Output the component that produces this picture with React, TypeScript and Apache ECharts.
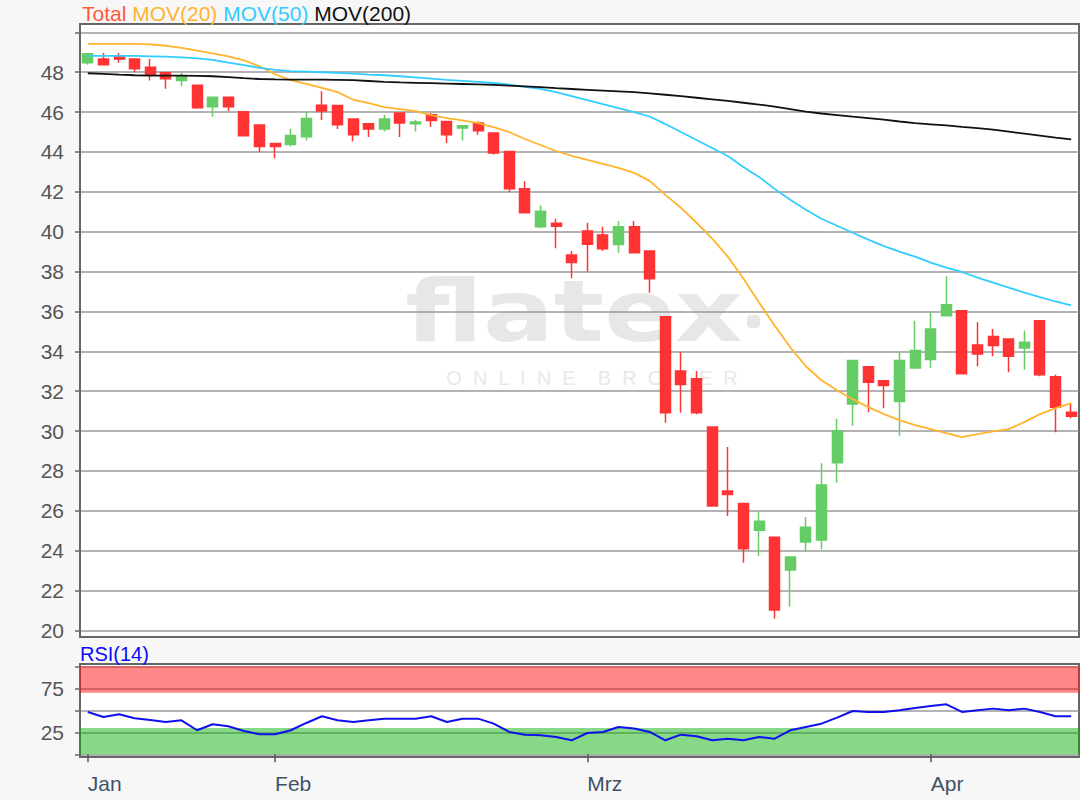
import React, { useEffect, useRef } from 'react';
import * as echarts from 'echarts';

const dates = [
  '2020-01-16', '2020-01-17', '2020-01-20', '2020-01-21', '2020-01-22', '2020-01-23', '2020-01-24', '2020-01-27', '2020-01-28', '2020-01-29', '2020-01-30', '2020-01-31',
  '2020-02-03', '2020-02-04', '2020-02-05', '2020-02-06', '2020-02-07', '2020-02-10', '2020-02-11', '2020-02-12', '2020-02-13', '2020-02-14', '2020-02-17', '2020-02-18', '2020-02-19', '2020-02-20', '2020-02-21', '2020-02-24', '2020-02-25', '2020-02-26', '2020-02-27', '2020-02-28',
  '2020-03-02', '2020-03-03', '2020-03-04', '2020-03-05', '2020-03-06', '2020-03-09', '2020-03-10', '2020-03-11', '2020-03-12', '2020-03-13', '2020-03-16', '2020-03-17', '2020-03-18', '2020-03-19', '2020-03-20', '2020-03-23', '2020-03-24', '2020-03-25', '2020-03-26', '2020-03-27', '2020-03-30', '2020-03-31',
  '2020-04-01', '2020-04-02', '2020-04-03', '2020-04-06', '2020-04-07', '2020-04-08', '2020-04-09', '2020-04-14', '2020-04-15', '2020-04-16',
];

const tickDates = ['2020-01-16', '2020-02-03', '2020-03-02', '2020-04-01'];
const tickLabels = ['Jan', 'Feb', 'Mrz', 'Apr'];

// [open, close, low, high]
const ohlc = [
  [48.47, 48.93, 48.38, 48.97],
  [48.67, 48.38, 48.35, 48.97],
  [48.77, 48.67, 48.47, 48.97],
  [48.67, 48.17, 48.0, 48.67],
  [48.25, 47.85, 47.58, 48.67],
  [47.97, 47.67, 47.17, 47.97],
  [47.58, 47.8, 47.3, 47.97],
  [47.35, 46.22, 46.17, 47.35],
  [46.27, 46.75, 45.77, 46.75],
  [46.75, 46.27, 46.05, 46.75],
  [46.02, 44.82, 44.8, 46.02],
  [45.35, 44.27, 44.0, 45.35],
  [44.43, 44.27, 43.68, 44.43],
  [44.38, 44.83, 44.27, 45.17],
  [44.77, 45.68, 44.58, 46.0],
  [46.35, 46.05, 45.6, 47.05],
  [46.33, 45.37, 45.15, 46.33],
  [45.65, 44.87, 44.53, 45.65],
  [45.42, 45.15, 44.75, 45.42],
  [45.15, 45.65, 45.03, 45.87],
  [45.95, 45.45, 44.75, 45.95],
  [45.42, 45.5, 45.03, 45.62],
  [45.87, 45.58, 45.25, 45.95],
  [45.53, 44.87, 44.45, 45.53],
  [45.2, 45.32, 44.57, 45.32],
  [45.45, 45.07, 44.87, 45.53],
  [44.95, 43.95, 43.87, 44.95],
  [44.03, 42.15, 41.98, 44.03],
  [42.15, 40.95, 40.95, 42.53],
  [40.25, 41.03, 40.17, 41.32],
  [40.42, 40.28, 39.17, 40.65],
  [38.83, 38.45, 37.67, 39.03],
  [40.03, 39.37, 38.0, 40.45],
  [39.83, 39.15, 39.03, 40.25],
  [39.36, 40.25, 38.95, 40.54],
  [40.25, 38.95, 38.95, 40.54],
  [39.03, 37.64, 36.94, 39.03],
  [35.74, 30.92, 30.42, 35.74],
  [33.01, 32.34, 30.92, 33.98],
  [32.63, 30.92, 30.84, 33.01],
  [30.2, 26.24, 26.24, 30.2],
  [26.99, 26.82, 25.74, 29.2],
  [26.37, 24.1, 23.4, 26.37],
  [25.03, 25.48, 23.73, 25.99],
  [24.68, 21.02, 20.6, 24.68],
  [23.03, 23.68, 21.19, 23.68],
  [24.43, 25.18, 23.93, 25.69],
  [24.53, 27.29, 24.06, 28.38],
  [28.41, 30.0, 27.41, 30.62],
  [31.36, 33.54, 30.27, 33.54],
  [33.23, 32.45, 30.94, 33.23],
  [32.53, 32.28, 31.14, 32.53],
  [31.48, 33.54, 29.77, 33.95],
  [33.17, 34.04, 33.17, 35.54],
  [33.59, 35.12, 33.17, 35.96],
  [35.79, 36.34, 35.79, 37.77],
  [36.04, 32.87, 32.87, 36.04],
  [34.32, 33.87, 33.25, 35.46],
  [34.74, 34.29, 33.75, 35.12],
  [34.62, 33.75, 32.95, 34.62],
  [34.17, 34.45, 33.07, 35.04],
  [35.54, 32.82, 32.75, 35.54],
  [32.73, 31.19, 29.94, 32.82],
  [30.94, 30.74, 30.64, 31.36],
];

const mov20 = [
  49.42, 49.42, 49.42, 49.42, 49.4, 49.33, 49.22, 49.08, 48.95, 48.8, 48.6, 48.3,
  47.9, 47.6, 47.42, 47.22, 47.0, 46.62, 46.45, 46.25, 46.15, 46.05, 45.85, 45.7, 45.58, 45.45, 45.25, 45.0, 44.65, 44.35, 44.05, 43.8,
  43.6, 43.4, 43.2, 42.95, 42.55, 41.85, 41.2, 40.45, 39.65, 38.75, 37.65, 36.45, 35.3, 34.2, 33.25, 32.55, 32.05, 31.6, 31.2, 30.85, 30.55, 30.3,
  30.1, 29.9, 29.7, 29.85, 29.98, 30.1, 30.45, 30.85, 31.15, 31.4,
];

const mov50 = [
  48.82, 48.82, 48.82, 48.82, 48.8, 48.78, 48.75, 48.7, 48.62, 48.48, 48.36, 48.22,
  48.12, 48.06, 48.03, 48.0, 47.97, 47.93, 47.88, 47.85, 47.8, 47.74, 47.68, 47.62, 47.57, 47.52, 47.46, 47.38, 47.27, 47.17, 47.0, 46.8,
  46.6, 46.4, 46.2, 46.0, 45.78, 45.4, 45.0, 44.6, 44.2, 43.8, 43.25, 42.75, 42.15, 41.6, 41.1, 40.65, 40.3, 39.95, 39.6, 39.28, 39.0, 38.75,
  38.45, 38.2, 37.98, 37.7, 37.45, 37.2, 36.95, 36.72, 36.5, 36.3,
];

const mov200 = [
  47.95, 47.92, 47.88, 47.85, 47.83, 47.83, 47.83, 47.82, 47.8, 47.75, 47.7, 47.66,
  47.64, 47.63, 47.63, 47.63, 47.62, 47.6, 47.56, 47.52, 47.49, 47.47, 47.45, 47.43, 47.41, 47.39, 47.37, 47.33, 47.29, 47.25, 47.2, 47.16,
  47.12, 47.08, 47.04, 47.0, 46.94, 46.87, 46.8, 46.72, 46.64, 46.56, 46.47, 46.38, 46.28, 46.15, 46.02, 45.93, 45.85, 45.77, 45.7, 45.62, 45.53, 45.45,
  45.39, 45.33, 45.26, 45.2, 45.12, 45.02, 44.92, 44.82, 44.72, 44.63,
];

const rsi14 = [
  48.1, 42.4, 45.5, 41.0, 39.0, 36.7, 38.6, 27.3, 34.1, 31.8, 26.5, 22.7,
  22.7, 27.3, 35.6, 43.2, 38.6, 36.7, 38.6, 40.5, 40.5, 40.5, 43.2, 36.7, 40.5, 40.5, 34.8, 25.4, 22.3, 21.6, 19.7, 15.9,
  24.2, 25.4, 31.1, 29.2, 25.4, 15.9, 22.3, 20.5, 15.9, 17.8, 15.9, 19.7, 17.8, 27.3, 31.1, 34.8, 41.7, 49.2, 48.1, 48.1, 50.0, 52.6,
  54.9, 56.8, 48.1, 50.0, 51.9, 50.0, 51.9, 48.1, 43.2, 43.2,
];

const priceGrid = [20, 22, 24, 26, 28, 30, 32, 34, 36, 38, 40, 42, 44, 46, 48, 50];
const priceLabels = [20, 22, 24, 26, 28, 30, 32, 34, 36, 38, 40, 42, 44, 46, 48];
const rsiGrid = [0, 25, 50, 75, 100];
const rsiLabels = [25, 75];
const rsiOverbought = [70, 100];
const rsiOversold = [0, 30];

const FONT = '"Liberation Sans", Arial, sans-serif';

const showTick = (_idx: number, value: string) => tickDates.indexOf(value) >= 0;

function buildOption() {
  return {
    animation: false,
    backgroundColor: '#f7f7f7',
    textStyle: { fontFamily: FONT },
    title: [
      {
        text: '{a|Total} {b|MOV(20)} {c|MOV(50)} {d|MOV(200)}',
        left: 82,
        top: 3,
        padding: 0,
        textStyle: {
          fontFamily: FONT,
          fontSize: 21,
          fontWeight: 'normal',
          rich: {
            a: { color: '#ff5a3c', fontSize: 21, fontFamily: FONT },
            b: { color: '#ffb42e', fontSize: 21, fontFamily: FONT },
            c: { color: '#33ccff', fontSize: 21, fontFamily: FONT },
            d: { color: '#111111', fontSize: 21, fontFamily: FONT },
          },
        },
      },
      {
        text: 'RSI(14)',
        left: 80,
        top: 644,
        padding: 0,
        textStyle: { fontFamily: FONT, fontSize: 20, fontWeight: 'normal', color: '#0a0aff' },
      },
    ],
    graphic: [
      { type: 'rect', z: -10, shape: { x: 80, y: 24, width: 999, height: 613 }, style: { fill: '#ffffff' } },
      { type: 'rect', z: -10, shape: { x: 80, y: 664, width: 999, height: 93 }, style: { fill: '#ffffff' } },
      {
        type: 'text', z: -5, x: 574, y: 311, scaleX: 1.22, scaleY: 1,
        style: { text: 'flatex', fill: '#e7e7e7', font: 'bold 86px "DejaVu Sans", sans-serif', align: 'center', verticalAlign: 'middle' },
      },
      { type: 'rect', z: -5, shape: { x: 747, y: 315, width: 13, height: 13, r: 4 }, style: { fill: '#e7e7e7' } },
      {
        type: 'text', z: -5, x: 592, y: 378,
        style: { text: 'O  N  L  I  N  E    B  R  O  K  E  R', fill: '#e8e8e8', font: '20px "Liberation Sans", Arial, sans-serif', align: 'center', verticalAlign: 'middle' },
      },
    ],
    grid: [
      { left: 80, right: 1, top: 24, height: 613, show: true, borderColor: '#666666', borderWidth: 2, backgroundColor: 'transparent' },
      { left: 80, right: 1, top: 664, height: 93, show: true, borderColor: '#666666', borderWidth: 2, backgroundColor: 'transparent' },
    ],
    xAxis: [
      {
        type: 'category', gridIndex: 0, data: dates, boundaryGap: true,
        axisLine: { show: false }, axisTick: { show: false }, axisLabel: { show: false }, splitLine: { show: false },
      },
      {
        type: 'category', gridIndex: 1, data: dates, boundaryGap: true,
        axisLine: { show: false },
        axisTick: { show: true, alignWithLabel: true, interval: showTick, length: 8, lineStyle: { color: '#4a5a6a', width: 1.5 } },
        axisLabel: {
          show: true, interval: showTick, align: 'left', margin: 16, fontSize: 21, color: '#3d5268', fontFamily: FONT,
          formatter: (v: string) => { const k = tickDates.indexOf(v); return k >= 0 ? tickLabels[k] : ''; },
        },
        splitLine: { show: false },
      },
    ],
    yAxis: [
      {
        type: 'value', gridIndex: 0, min: 19.67, max: 50.42,
        axisLine: { show: true, lineStyle: { color: '#666666', width: 2 } },
        axisTick: { show: true, customValues: priceGrid, length: 5, lineStyle: { color: '#666666', width: 1.5 } },
        axisLabel: { show: true, customValues: priceLabels, fontSize: 21, color: '#555555', margin: 16, fontFamily: FONT },
        splitLine: { show: true, lineStyle: { color: '#9a9a9a', width: 1.5 } },
      },
      {
        type: 'value', gridIndex: 1, min: -3.07, max: 102.6,
        axisLine: { show: true, lineStyle: { color: '#666666', width: 2 } },
        axisTick: { show: true, customValues: rsiGrid, length: 5, lineStyle: { color: '#666666', width: 1.5 } },
        axisLabel: { show: true, customValues: rsiLabels, fontSize: 21, color: '#555555', margin: 16, fontFamily: FONT },
        splitLine: { show: true, lineStyle: { color: '#9a9a9a', width: 1.5 } },
      },
    ],
    series: [
      {
        name: 'Total', type: 'candlestick', xAxisIndex: 0, yAxisIndex: 0, data: ohlc, barWidth: 10.5,
        itemStyle: { color: '#66cc66', color0: '#ff3333', borderColor: '#66cc66', borderColor0: '#ff3333', borderWidth: 1.5 },
      },
      { name: 'MOV(20)', type: 'line', xAxisIndex: 0, yAxisIndex: 0, data: mov20, symbol: 'none', lineStyle: { color: '#ffb42e', width: 1.8 } },
      { name: 'MOV(50)', type: 'line', xAxisIndex: 0, yAxisIndex: 0, data: mov50, symbol: 'none', lineStyle: { color: '#33ccff', width: 1.8 } },
      { name: 'MOV(200)', type: 'line', xAxisIndex: 0, yAxisIndex: 0, data: mov200, symbol: 'none', lineStyle: { color: '#111111', width: 1.8 } },
      {
        name: 'RSI(14)', type: 'line', xAxisIndex: 1, yAxisIndex: 1, data: rsi14, symbol: 'none',
        lineStyle: { color: '#1010ee', width: 2 },
        markArea: {
          silent: true,
          data: [
            [{ yAxis: rsiOverbought[0], itemStyle: { color: 'rgba(255,0,0,0.47)' } }, { yAxis: rsiOverbought[1] }],
            [{ yAxis: rsiOversold[0], itemStyle: { color: 'rgba(0,172,0,0.47)' } }, { yAxis: rsiOversold[1] }],
          ],
        },
      },
    ],
  };
}

export default function App() {
  const ref = useRef<HTMLDivElement>(null);
  useEffect(() => {
    if (!ref.current) return;
    const chart = echarts.init(ref.current, null, { renderer: 'svg' });
    chart.setOption(buildOption() as any);
    return () => chart.dispose();
  }, []);
  return (
    <div style={{ position: 'fixed', left: 0, top: 0, width: 1080, height: 800, background: '#f7f7f7' }}>
      <div ref={ref} style={{ width: 1080, height: 800 }} />
    </div>
  );
}
